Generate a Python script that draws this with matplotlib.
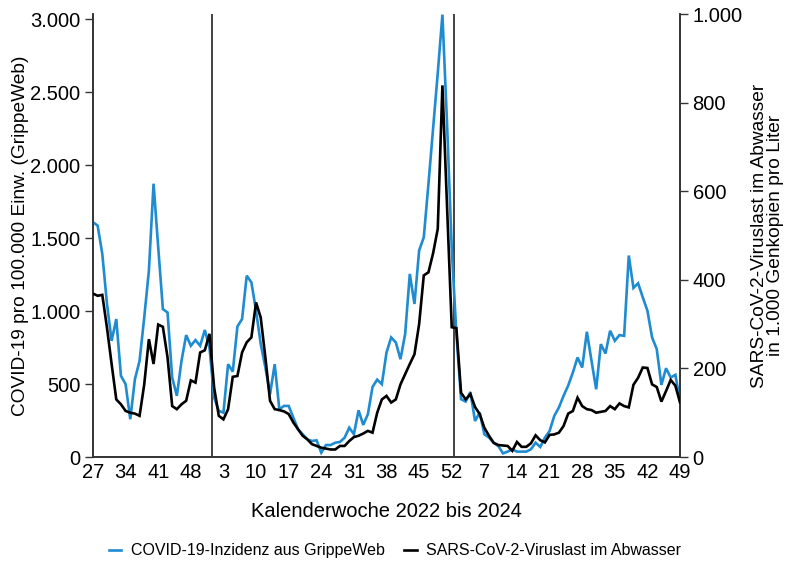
import matplotlib
matplotlib.use("Agg")
import matplotlib.pyplot as plt
from matplotlib.ticker import FuncFormatter, FixedLocator

plt.rcParams["font.family"] = ["Liberation Sans", "DejaVu Sans"]

# Calendar weeks: 2022 wk 27 .. 2024 wk 49
weeks_2022 = list(range(27, 53))
weeks_2023 = list(range(1, 53))
weeks_2024 = list(range(1, 50))
weeks = weeks_2022 + weeks_2023 + weeks_2024

# COVID-19 incidence per 100,000 (GrippeWeb), left axis
incidence = [
    1608, 1585, 1391, 1050, 796, 945, 556, 499, 259, 533, 659, 956, 1277, 1872,
    1437, 1013, 990, 544, 419, 659, 835,
    762, 801, 762, 870, 750, 407, 316, 304, 636, 585, 894, 945, 1242, 1196,
    1002, 775, 613, 430, 636, 327, 350,
    350, 270, 190, 156, 121, 110, 114, 30, 82, 82, 98, 103, 132, 201, 156,
    320, 220, 293, 480,
    530, 499, 716, 819, 785, 670, 842, 1254, 1048, 1414, 1505,
    1870, 2250, 2630, 3030, 2280, 1430, 842, 396, 380,
    445, 247, 304, 156, 133, 98, 75, 25, 37, 53, 37, 37, 37, 53, 98, 69, 133,
    178, 281, 339, 419, 490,
    579, 682, 613, 858, 659, 464, 773, 709, 865, 796, 835, 830, 1380, 1158,
    1190, 1094, 1002, 819, 739, 494, 608, 545, 563, 384,
]

# SARS-CoV-2 viral load in wastewater (1,000 gene copies per litre), right axis
viral_load = [
    369, 364, 366, 292, 210, 130, 119, 104, 100, 98, 93, 164, 266, 210, 299,
    294, 225, 115, 108, 119, 127,
    173, 168, 236, 241, 278, 157, 93, 85, 108, 181, 183, 236, 259, 270, 349,
    315, 225, 127, 108, 106, 103,
    97, 78, 63, 48, 40, 29, 25, 21, 19, 17, 17, 25, 25, 36, 45, 48, 53, 59, 55,
    100, 130, 138, 123, 130, 164, 187, 210, 232, 300, 410,
    417, 460, 515, 839, 564, 293, 291, 145, 130,
    142, 113, 97, 66, 48, 32, 27, 26, 25, 14, 34, 23, 23, 31, 49, 38, 33, 50,
    51, 55, 70, 98,
    104, 134, 115, 108, 106, 100, 102, 104, 115, 108, 121, 115, 112, 163, 179,
    202, 201, 164, 158, 125, 149, 174, 161, 123,
]

left_ticks = [0, 500, 1000, 1500, 2000, 2500, 3000]
right_ticks = [0, 200, 400, 600, 800, 1000]

blue = "#1f8bd0"
spine_col = "#333333"

x = list(range(len(weeks)))
year_breaks = [len(weeks_2022) - 0.5, len(weeks_2022) + len(weeks_2023) - 0.5]

fig = plt.figure(figsize=(7.9, 5.62), dpi=100)
ax = fig.add_axes([0.1177, 0.1868, 0.8608 - 0.1177, 0.975 - 0.1868])
ax2 = ax.twinx()

ax.plot(x, incidence, color=blue, lw=1.9, solid_joinstyle="miter",
        label="COVID-19-Inzidenz aus GrippeWeb", zorder=3)
ax2.plot(x, viral_load, color="black", lw=1.9, solid_joinstyle="miter",
         label="SARS-CoV-2-Viruslast im Abwasser", zorder=3)

for xb in year_breaks:
    ax.axvline(xb, color=spine_col, lw=1.3, zorder=1)

ax.set_xlim(0, len(weeks) - 1)
ax.set_ylim(0, 3034)
ax2.set_ylim(0, 1000)

tick_pos = x[::7]
ax.xaxis.set_major_locator(FixedLocator(tick_pos))
ax.set_xticklabels([str(weeks[i]) for i in tick_pos])
ax.tick_params(axis="x", length=0, pad=4, labelsize=14.5)

fmt = FuncFormatter(lambda v, p: f"{int(v):,}".replace(",", "."))
ax.set_yticks(left_ticks)
ax.yaxis.set_major_formatter(fmt)
ax2.set_yticks(right_ticks)
ax2.yaxis.set_major_formatter(fmt)
ax.tick_params(axis="y", length=6, width=1, color=spine_col, pad=3, labelsize=14.5)
ax2.tick_params(axis="y", length=6, width=1, color=spine_col, pad=3, labelsize=14.5)

for a in (ax, ax2):
    a.spines["top"].set_visible(False)
    for s in ("left", "right", "bottom"):
        a.spines[s].set_color(spine_col)
        a.spines[s].set_linewidth(1.2)

ax.set_ylabel("COVID-19 pro 100.000 Einw. (GrippeWeb)", fontsize=13.8, labelpad=1)
ax2.set_ylabel("SARS-CoV-2-Viruslast im Abwasser\nin 1.000 Genkopien pro Liter",
               fontsize=13.8, labelpad=6, linespacing=0.95)
ax.set_xlabel("Kalenderwoche 2022 bis 2024", fontsize=14.5, labelpad=15)

h1, l1 = ax.get_legend_handles_labels()
h2, l2 = ax2.get_legend_handles_labels()
fig.legend(h1 + h2, l1 + l2, loc="center", bbox_to_anchor=(0.5, 0.02),
           ncol=2, frameon=False, fontsize=11.5, handlelength=0.8,
           handletextpad=0.6, columnspacing=1.2)

fig.savefig("out.png", dpi=100)
